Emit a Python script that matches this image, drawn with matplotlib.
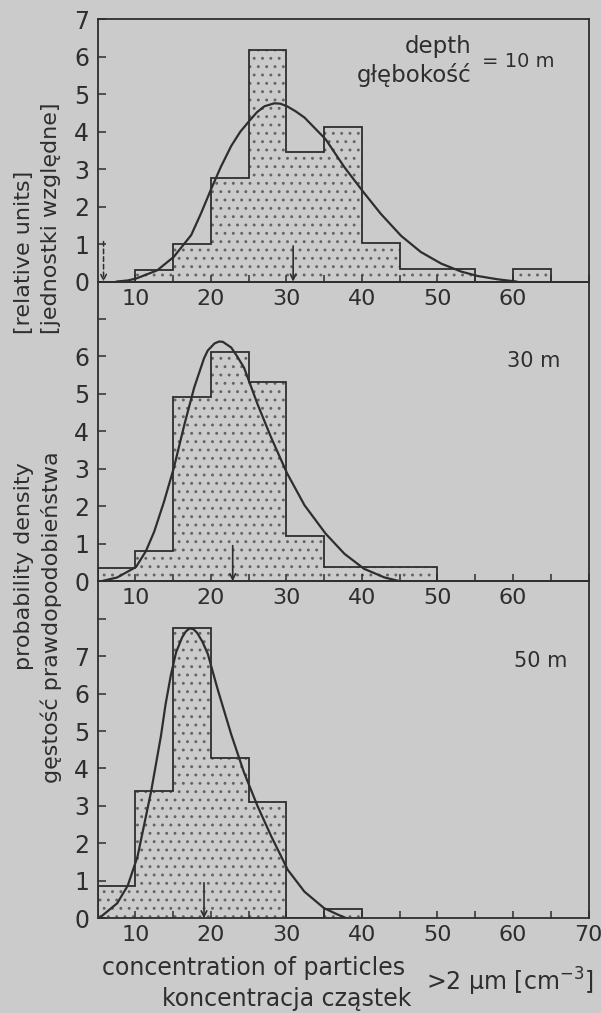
import matplotlib
matplotlib.use("Agg")
import matplotlib.pyplot as plt

# ---------------- data ----------------
bin_edges_10 = [5, 10, 15, 20, 25, 30, 35, 40, 45, 50, 55, 60, 65]
density_10 = [0.0, 0.31, 1.0, 2.76, 6.19, 3.46, 4.13, 1.04, 0.33, 0.33, 0.0, 0.33]
bin_edges_30 = [5, 10, 15, 20, 25, 30, 35, 40, 45, 50]
density_30 = [0.36, 0.8, 4.92, 6.13, 5.33, 1.21, 0.37, 0.37, 0.37]
bin_edges_50 = [5, 10, 15, 20, 25, 30, 35, 40]
density_50 = [0.87, 3.39, 7.76, 4.29, 3.1, 0.0, 0.25]

curve_x_10 = [7.5, 9.0, 10.1, 12.9, 15.1, 17.4, 18.7, 20.0, 21.3, 22.7, 23.9, 25.1,
              26.1, 27.1, 28.4, 29.2, 30.1, 31.2, 32.4, 35.2, 37.7, 40.2, 42.5, 45.2,
              47.8, 50.5, 53.1, 55.3, 58.0, 60.5]
curve_y_10 = [0.0, 0.03, 0.08, 0.3, 0.66, 1.24, 1.82, 2.45, 3.05, 3.62, 4.0, 4.29,
              4.52, 4.68, 4.76, 4.75, 4.68, 4.55, 4.38, 3.8, 3.05, 2.39, 1.81, 1.22,
              0.79, 0.48, 0.27, 0.15, 0.06, 0.0]
curve_x_30 = [5.5, 7.6, 10.1, 11.4, 12.5, 13.8, 15.1, 16.5, 17.8, 19.1, 19.6, 20.5,
              21.1, 21.6, 22.7, 23.5, 24.4, 26.2, 28.0, 30.1, 32.4, 35.2, 37.7, 40.3,
              43.0, 45.0]
curve_y_30 = [0.0, 0.1, 0.38, 0.8, 1.32, 2.12, 3.02, 4.18, 5.17, 5.95, 6.16, 6.35,
              6.4, 6.39, 6.24, 6.0, 5.7, 4.72, 3.83, 2.88, 2.03, 1.27, 0.73, 0.33,
              0.1, 0.0]
curve_x_50 = [5.2, 7.6, 9.0, 10.3, 12.1, 13.4, 14.0, 14.7, 15.4, 16.2, 16.7, 17.2,
              17.7, 18.2, 18.9, 19.6, 20.9, 22.7, 24.4, 26.2, 28.0, 30.2, 32.4, 35.0,
              36.8, 38.0]
curve_y_50 = [0.0, 0.4, 0.87, 1.65, 3.39, 4.87, 5.7, 6.48, 7.1, 7.5, 7.66, 7.74,
              7.72, 7.62, 7.38, 7.06, 6.12, 4.91, 3.89, 2.99, 2.19, 1.29, 0.71, 0.27,
              0.1, 0.0]

mean_arrows = [30.9, 22.9, 19.1]
dashed_arrow_10 = 5.8
panel_labels = ["= 10 m", "30 m", "50 m"]
y_limits = [7, 8, 9]
y_tick_labels = [["0", "1", "2", "3", "4", "5", "6", "7"],
                 ["0", "1", "2", "3", "4", "5", "6", ""],
                 ["0", "1", "2", "3", "4", "5", "6", "7", ""]]
x_ticks = [10, 15, 20, 25, 30, 35, 40, 45, 50, 55, 60, 65, 70]
x_labels_upper = ["10", "", "20", "", "30", "", "40", "", "50", "", "60", "", ""]
x_labels_lower = ["10", "", "20", "", "30", "", "40", "", "50", "", "60", "", "70"]

# ---------------- style ----------------
BG = "#cbcbcb"
INK = "#2e2e2e"
DOT = "#646464"
plt.rcParams["font.family"] = ["DejaVu Sans"]
plt.rcParams["hatch.linewidth"] = 0.9

W, H = 601, 1013
fig = plt.figure(figsize=(W / 100, H / 100), dpi=100, facecolor=BG)
left, right = 97.5 / W, 588.5 / W
top, bottom = 1 - 19.4 / H, 1 - 918.3 / H
gs = fig.add_gridspec(3, 1, height_ratios=y_limits, hspace=0,
                      left=left, right=right, top=top, bottom=bottom)

data = [(bin_edges_10, density_10, curve_x_10, curve_y_10),
        (bin_edges_30, density_30, curve_x_30, curve_y_30),
        (bin_edges_50, density_50, curve_x_50, curve_y_50)]

axes = []
for i, (edges, dens, cx, cy) in enumerate(data):
    ax = fig.add_subplot(gs[i])
    axes.append(ax)
    ax.patch.set_visible(False)
    ax.stairs(dens, edges, fill=True, hatch="..", facecolor=BG,
              edgecolor=DOT, linewidth=0, zorder=1)
    ax.stairs(dens, edges, baseline=0, color=INK, linewidth=1.3, zorder=2)
    ax.plot(cx, cy, color=INK, linewidth=1.6, zorder=3, solid_capstyle="round",
            solid_joinstyle="round")
    ax.annotate("", xy=(mean_arrows[i], 0), xytext=(mean_arrows[i], 0.95),
                arrowprops=dict(arrowstyle="->", color=INK, lw=1.2,
                                shrinkA=0, shrinkB=0), zorder=4)
    ax.set_xlim(5, 70)
    ax.set_ylim(0, y_limits[i])
    nt = len(y_tick_labels[i])
    ax.set_yticks(range(nt))
    ax.set_yticklabels(y_tick_labels[i])
    ax.set_xticks(x_ticks)
    ax.set_xticklabels(x_labels_lower if i == 2 else x_labels_upper)
    ax.tick_params(axis="y", direction="in", length=6, width=1.1, pad=6,
                   labelsize=17, colors=INK)
    ax.tick_params(axis="x", direction="in", length=5, width=1.1, pad=5,
                   labelsize=16, colors=INK)
    for s in ax.spines.values():
        s.set_color(INK)
        s.set_linewidth(1.3)

# dashed arrow in the top panel
axes[0].annotate("", xy=(dashed_arrow_10, 0), xytext=(dashed_arrow_10, 1.07),
                 arrowprops=dict(arrowstyle="->", color=INK, lw=1.1, ls=(0, (3, 2)),
                                 shrinkA=0, shrinkB=0))

# panel annotations
axes[0].text(54.5, 6.27, "depth", ha="right", va="center", fontsize=16.5, color=INK)
axes[0].text(54.5, 5.52, "głębokość", ha="right", va="center", fontsize=16.5, color=INK)
axes[0].text(55.9, 5.87, panel_labels[0], ha="left", va="center", fontsize=14, color=INK)
axes[1].text(62.7, 5.87, panel_labels[1], ha="center", va="center", fontsize=15, color=INK)
axes[2].text(63.7, 6.87, panel_labels[2], ha="center", va="center", fontsize=15, color=INK)

def fx(px):
    return px / W

def fy(py):
    return 1 - py / H

# y-axis label (two languages)
fig.text(fx(24), fy(670), "probability density", rotation=90, ha="center", va="bottom",
         fontsize=16, color=INK)
fig.text(fx(24), fy(334), "[relative units]", rotation=90, ha="center", va="bottom",
         fontsize=16, color=INK)
fig.text(fx(51), fy(783), "gęstość prawdopodobieństwa", rotation=90, ha="center",
         va="bottom", fontsize=16, color=INK)
fig.text(fx(51), fy(334), "[jednostki względne]", rotation=90, ha="center", va="bottom",
         fontsize=16, color=INK)

# x-axis label (two languages)
fig.text(fx(102), fy(975), "concentration of particles", ha="left", va="baseline",
         fontsize=17, color=INK)
fig.text(fx(162), fy(1006), "koncentracja cząstek", ha="left", va="baseline",
         fontsize=17, color=INK)
fig.text(fx(426), fy(991), r">2 μm [cm$^{-3}$]", ha="left", va="baseline",
         fontsize=17, color=INK)

fig.savefig("out.png", dpi=100, facecolor=BG)
